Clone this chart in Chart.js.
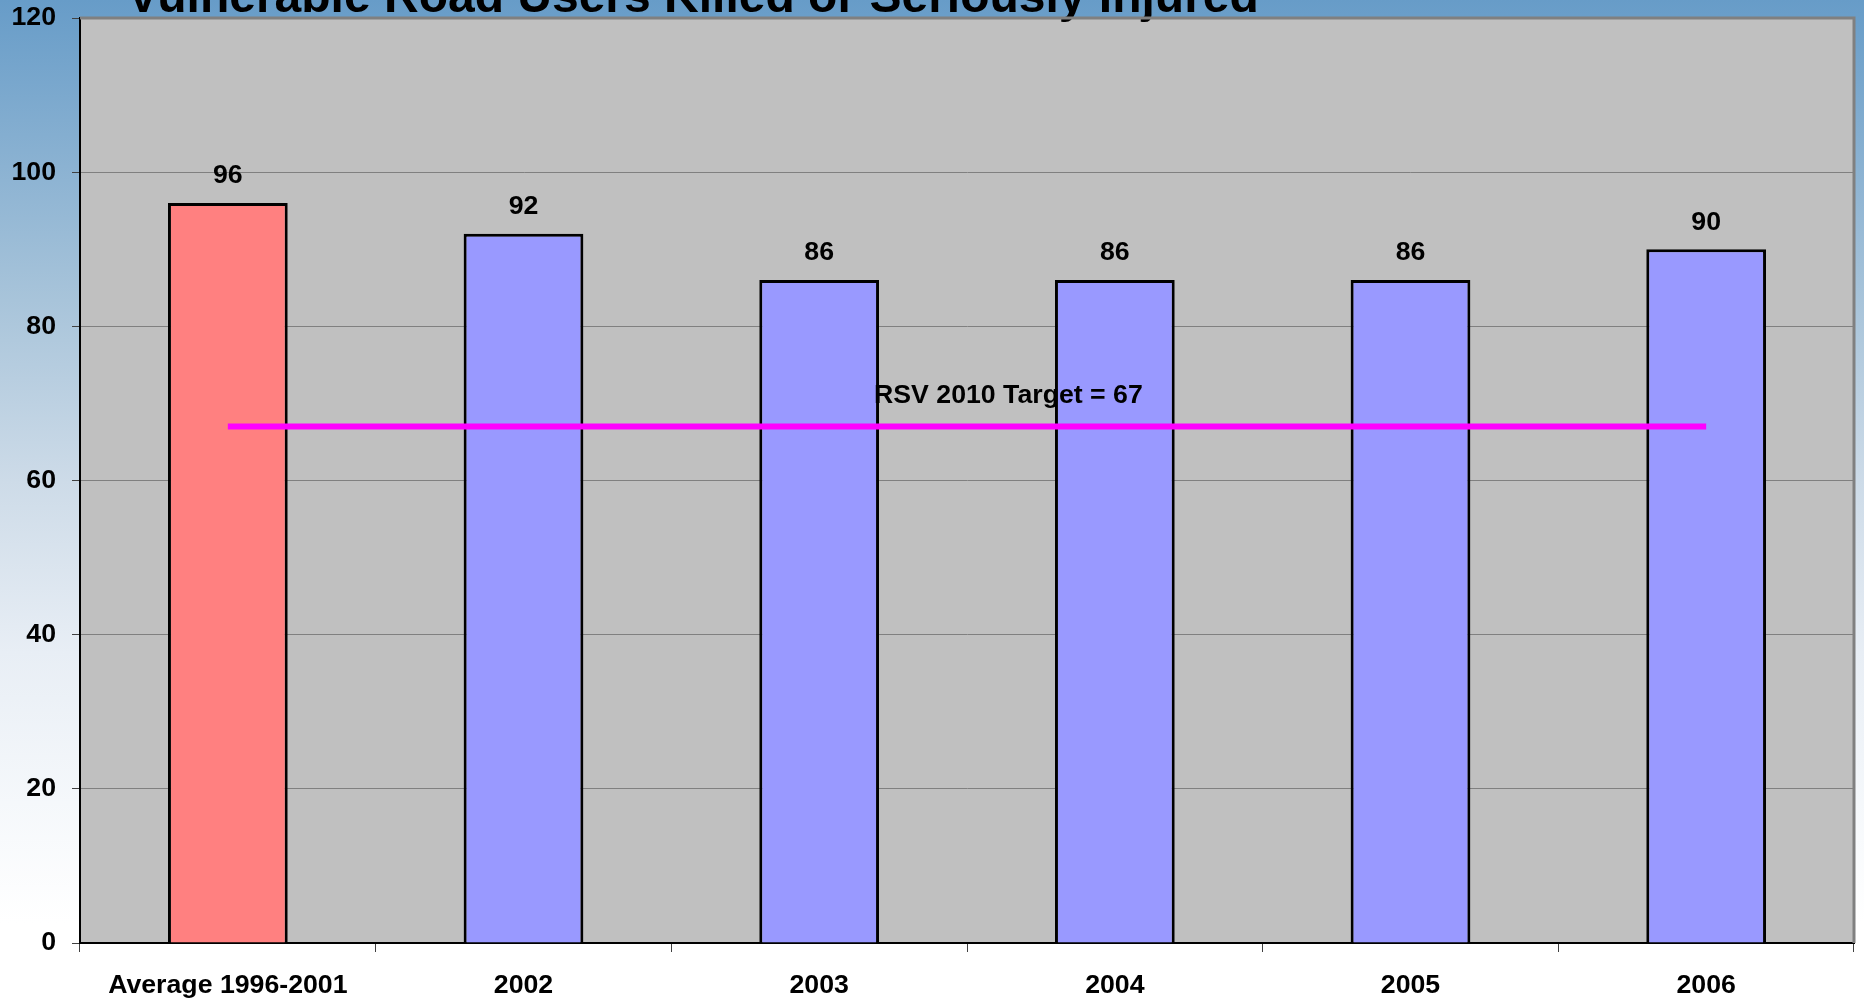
<!DOCTYPE html>
<html>
<head>
<meta charset="utf-8">
<script src="https://cdn.jsdelivr.net/npm/chart.js@4.4.1/dist/chart.umd.min.js"></script>
<style>
    html, body { margin: 0; padding: 0; }
    #wrap {
        width: 1864px; height: 1003px; position: relative;
        background: linear-gradient(to bottom, #679cc8 0%, #a8c4da 30%, #cddbe8 48%, #e8eef5 65%, #f5f8fb 80%, #ffffff 92%);
    }
</style>
</head>
<body>
<div id="wrap"><canvas id="rsvChart"></canvas></div>
<script>
// ------------------------------------------------------------
// data
// ------------------------------------------------------------
const CATEGORIES = ['Average 1996-2001', '2002', '2003', '2004', '2005', '2006'];
const KSI_VALUES = [96, 92, 86, 86, 86, 90];
const TARGET_VALUES = [67, 67, 67, 67, 67, 67];
const BAR_COLORS = ['#ff8080', '#9999ff', '#9999ff', '#9999ff', '#9999ff', '#9999ff'];
const Y_TICKS = [0, 20, 40, 60, 80, 100, 120];

const TITLE_TEXT = 'Vulnerable Road Users Killed or Seriously Injured';
const TARGET_TEXT = 'RSV 2010 Target = 67';
const TARGET_TEXT_AT = 2.64;   // category index where the target label sits

const FONT = '"Liberation Sans", Arial, sans-serif';
const LABEL_SIZE = 26.7;

// ------------------------------------------------------------
// plugins
// ------------------------------------------------------------
const plotBackground = {
    id: 'plotBackground',
    beforeDraw(chart) {
        const { ctx, chartArea: a } = chart;
        ctx.save();
        ctx.fillStyle = '#c0c0c0';
        ctx.fillRect(a.left, a.top, a.right - a.left, a.bottom - a.top);
        ctx.restore();
    },
    afterDraw(chart) {
        const { ctx, chartArea: a } = chart;
        ctx.save();
        ctx.strokeStyle = '#808080';
        ctx.lineWidth = 3;
        ctx.beginPath();
        ctx.moveTo(a.left, a.top);
        ctx.lineTo(a.right, a.top);
        ctx.lineTo(a.right, a.bottom);
        ctx.stroke();
        ctx.restore();
    }
};

const labelsPlugin = {
    id: 'labelsPlugin',
    afterDatasetsDraw(chart) {
        const ctx = chart.ctx;
        const meta = chart.getDatasetMeta(1);   // the bars
        ctx.save();
        ctx.font = 'bold ' + LABEL_SIZE + 'px ' + FONT;
        ctx.fillStyle = '#000';
        ctx.textAlign = 'center';
        ctx.textBaseline = 'middle';
        meta.data.forEach((bar, i) => {
            ctx.fillText(String(KSI_VALUES[i]), bar.x, bar.y - 27);
        });
        // target label
        const xs = chart.scales.x, ys = chart.scales.y;
        ctx.fillText(TARGET_TEXT, xs.getPixelForValue(TARGET_TEXT_AT), ys.getPixelForValue(TARGET_VALUES[0]) - 31);
        // title, partly off the top of the page
        ctx.font = 'bold 48px ' + FONT;
        ctx.textAlign = 'left';
        ctx.textBaseline = 'alphabetic';
        ctx.fillText(TITLE_TEXT, 127, 12);
        ctx.restore();
    }
};

// ------------------------------------------------------------
// chart
// ------------------------------------------------------------
const ctx = document.getElementById('rsvChart').getContext('2d');
const myChart = new Chart(ctx, {
    data: {
        labels: CATEGORIES,
        datasets: [
            {
                type: 'line',
                label: 'Target',
                data: TARGET_VALUES,
                borderColor: '#ff00ff',
                borderWidth: 6,
                pointRadius: 0,
                fill: false,
                order: 0
            },
            {
                type: 'bar',
                label: 'KSI',
                data: KSI_VALUES,
                backgroundColor: BAR_COLORS,
                borderColor: '#000',
                borderWidth: 3,
                categoryPercentage: 1,
                barPercentage: 0.405,
                order: 1
            }
        ]
    },
    options: {
        responsive: true,
        maintainAspectRatio: false,
        animation: false,
        layout: { padding: { top: 18, right: 10, left: 0, bottom: 0 } },
        plugins: {
            legend: { display: false },
            tooltip: { enabled: false }
        },
        scales: {
            x: {
                grid: { drawOnChartArea: false, tickLength: 9, tickColor: '#404040', offset: true },
                border: { color: '#000', width: 2 },
                ticks: { color: '#000', font: { family: FONT, size: LABEL_SIZE, weight: 'bold' }, padding: 18, maxRotation: 0 },
                afterFit(scale) { scale.height = 60; }
            },
            y: {
                min: 0,
                max: 120,
                afterBuildTicks(scale) { scale.ticks = Y_TICKS.map(v => ({ value: v })); },
                grid: { color: '#808080', lineWidth: 1, tickLength: 8, tickColor: '#404040' },
                border: { color: '#000', width: 2 },
                ticks: { color: '#000', font: { family: FONT, size: LABEL_SIZE, weight: 'bold' }, padding: 16 },
                afterFit(scale) {
                    scale.width = 80;
                    scale.paddingTop = 0;
                    scale.paddingBottom = 0;
                }
            }
        }
    },
    plugins: [plotBackground, labelsPlugin]
});
</script>
</body>
</html>
